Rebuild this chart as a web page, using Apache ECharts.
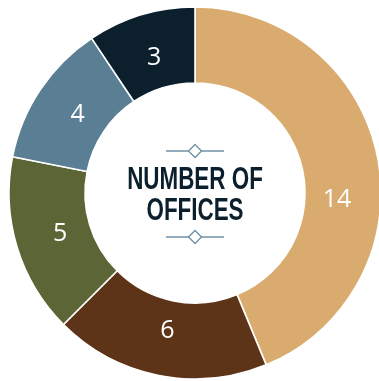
<!DOCTYPE html>
<html>
<head>
<meta charset="utf-8">
<style>
  html, body { margin: 0; padding: 0; background: #ffffff; }
  #chart { width: 379px; height: 381px; }
</style>
<script src="https://cdn.jsdelivr.net/npm/echarts@6/dist/echarts.min.js"></script>
</head>
<body>
<div id="chart"></div>
<script>
// Office counts per group, clockwise from the top
const categories = ['Group A', 'Group B', 'Group C', 'Group D', 'Group E'];
const officeCounts = [14, 6, 5, 4, 3];
const sliceColors = ['#D9AB6E', '#5E3418', '#5B6536', '#5A7E93', '#0B1F2D'];
const centerTitle = ['NUMBER OF', 'OFFICES'];

const chart = echarts.init(document.getElementById('chart'), null, { renderer: 'canvas' });

const cx = 195, cy = 193;
const ornamentColor = '#6F8FA4';
const titleFont = 'bold 32px "Liberation Sans", Arial, sans-serif';

function ornament(y) {
  return {
    type: 'group',
    children: [
      { type: 'line', shape: { x1: cx - 29, y1: y, x2: cx + 29, y2: y },
        style: { stroke: ornamentColor, lineWidth: 1.3 } },
      { type: 'polygon', shape: { points: [[cx, y - 6.5], [cx + 6.5, y], [cx, y + 6.5], [cx - 6.5, y]] },
        style: { fill: '#ffffff', stroke: ornamentColor, lineWidth: 1.3 } }
    ]
  };
}

const data = categories.map((name, i) => ({
  name: name,
  value: officeCounts[i],
  itemStyle: { color: sliceColors[i] }
}));

chart.setOption({
  animation: false,
  series: [{
    type: 'pie',
    center: [cx, cy],
    radius: [110, 186],
    startAngle: 90,
    clockwise: true,
    avoidLabelOverlap: false,
    itemStyle: { borderColor: '#ffffff', borderWidth: 1.6 },
    label: {
      show: true,
      position: 'inside',
      formatter: '{c}',
      color: '#ffffff',
      fontFamily: 'Open Sans',
      fontSize: 25,
      fontWeight: 'normal'
    },
    // pull the value labels slightly toward the hole; the big slice's label sits lower
    labelLayout: function (params) {
      const r = params.labelRect;
      const lx = r.x + r.width / 2, ly = r.y + r.height / 2;
      const vx = lx - cx, vy = ly - cy;
      const len = Math.sqrt(vx * vx + vy * vy) || 1;
      let dx = -10 * vx / len, dy = -10 * vy / len;
      if (params.dataIndex === 0) { dx = -6; dy = 36; }
      return { dx: dx, dy: dy };
    },
    labelLine: { show: false },
    emphasis: { disabled: true },
    data: data
  }],
  graphic: [
    ornament(151),
    ornament(237),
    {
      type: 'group',
      x: cx, y: cy,
      scaleX: 0.7,
      children: [
        { type: 'text', x: 0, y: -13,
          style: { text: centerTitle[0], fill: '#0B1F2D', font: titleFont,
                   align: 'center', verticalAlign: 'middle' } },
        { type: 'text', x: 0, y: 18,
          style: { text: centerTitle[1], fill: '#0B1F2D', font: titleFont,
                   align: 'center', verticalAlign: 'middle' } }
      ]
    }
  ]
});
</script>
</body>
</html>
